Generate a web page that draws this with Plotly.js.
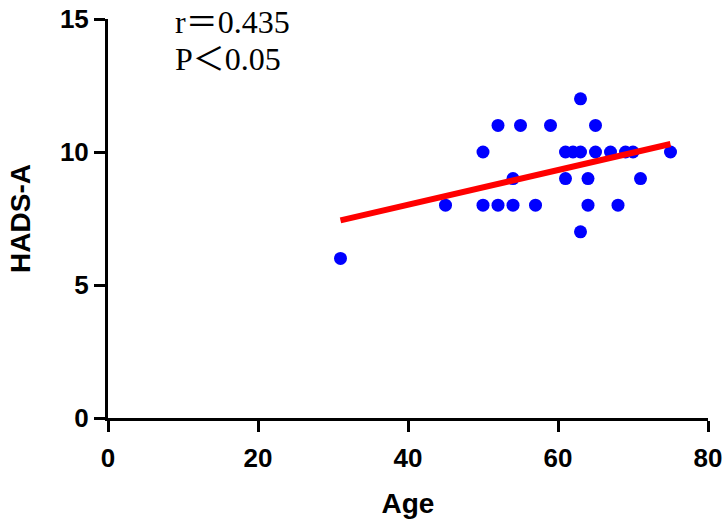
<!DOCTYPE html>
<html>
<head>
<meta charset="utf-8">
<script src="https://cdn.plot.ly/plotly-3.0.1.min.js"></script>
<style>html,body{margin:0;padding:0;background:#fff;}#chart{width:725px;height:528px;}</style>
</head>
<body>
<div id="chart"></div>
<script>
// Data (Age vs HADS-A)
const age   = [31, 63, 52, 55, 59, 65, 50, 61, 62, 63, 65, 67, 69, 70, 75, 54, 61, 64, 71, 45, 50, 52, 54, 57, 64, 68, 63];
const hadsA = [ 6, 12, 11, 11, 11, 11, 10, 10, 10, 10, 10, 10, 10, 10, 10,  9,  9,  9,  9,  8,  8,  8,  8,  8,  8,  8,  7];
const xTicks = [0, 20, 40, 60, 80];
const yTicks = [0, 5, 10, 15];
const statLabels = ["r\uFF1D0.435", "P\uFF1C0.05"];

// least-squares fit line over data range
const n = age.length;
const mx = age.reduce((a,b)=>a+b,0)/n;
const my = hadsA.reduce((a,b)=>a+b,0)/n;
let sxy = 0, sxx = 0;
for (let i=0;i<n;i++){ sxy += (age[i]-mx)*(hadsA[i]-my); sxx += (age[i]-mx)**2; }
const slope = sxy/sxx, icpt = my - slope*mx;
const xmin = Math.min(...age), xmax = Math.max(...age);
const fitX = [xmin, xmax];
const fitY = fitX.map(x => icpt + slope*x);

const axisFont = {family: "Liberation Sans, Arial, sans-serif", size: 26, color: "#000", weight: "bold"};
const titleFont = {family: "Liberation Sans, Arial, sans-serif", size: 28, color: "#000", weight: "bold"};
const statFont = {family: "Liberation Serif, Times New Roman, Noto Sans CJK SC, serif", size: 32, color: "#000"};

const traces = [
  {x: age, y: hadsA, type: "scatter", mode: "markers",
   marker: {color: "#0000FF", size: 13}, showlegend: false, hoverinfo: "skip"},
  {x: fitX, y: fitY, type: "scatter", mode: "lines",
   line: {color: "#FF0000", width: 6}, showlegend: false, hoverinfo: "skip"}
];

const layout = {
  width: 725, height: 528,
  margin: {l: 108, r: 17, t: 19, b: 110},
  paper_bgcolor: "#fff", plot_bgcolor: "#fff",
  xaxis: {
    range: [0, 80], tickvals: xTicks, ticktext: xTicks.map(String),
    showgrid: false, zeroline: false, showline: true, linecolor: "#000", linewidth: 3,
    ticks: "outside", ticklen: 11, tickwidth: 3, tickcolor: "#000",
    tickfont: axisFont, ticklabelstandoff: 4,
    title: {text: "<b>Age</b>", font: titleFont, standoff: 22}
  },
  yaxis: {
    range: [0, 15], tickvals: yTicks, ticktext: yTicks.map(String),
    showgrid: false, zeroline: false, showline: true, linecolor: "#000", linewidth: 3,
    ticks: "outside", ticklen: 11, tickwidth: 3, tickcolor: "#000",
    tickfont: axisFont,
    title: {text: "<b>HADS-A</b>", font: titleFont, standoff: 22}
  },
  annotations: [
    {text: statLabels[0], xref: "paper", yref: "paper", x: 0.108, y: 0.993, xanchor: "left", yanchor: "middle",
     showarrow: false, font: statFont},
    {text: statLabels[1], xref: "paper", yref: "paper", x: 0.108, y: 0.9, xanchor: "left", yanchor: "middle",
     showarrow: false, font: statFont}
  ]
};

Plotly.newPlot("chart", traces, layout, {displayModeBar: false, staticPlot: true});
</script>
</body>
</html>
